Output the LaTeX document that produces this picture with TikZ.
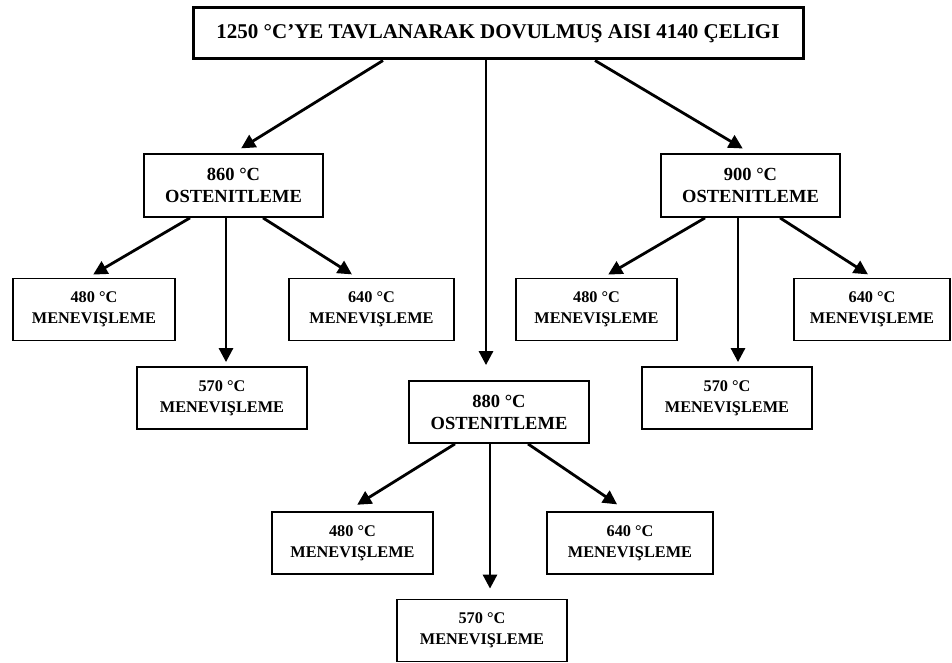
\documentclass[tikz,border=0pt]{standalone}
\usepackage{fontspec}
\setmainfont{Liberation Serif}
\usetikzlibrary{arrows.meta}
\begin{document}
\begin{tikzpicture}[x=1pt,y=1pt,yscale=-1,xscale=1,
  ana/.style={draw,line width=3pt,inner sep=0pt,minimum width=610pt,minimum height=51pt,font=\bfseries\fontsize{21}{24}\selectfont},
  osten/.style={draw,line width=1.8pt,align=center,inner sep=0pt,minimum width=179pt,minimum height=63pt,font=\bfseries\fontsize{18.5}{22}\selectfont},
  menev/.style={draw,line width=1.8pt,align=center,inner sep=0pt,minimum height=62pt,font=\bfseries\fontsize{16.3}{21}\selectfont},
  ok/.style={line width=2.8pt,-{Triangle[length=14pt,width=14pt]}}]
\useasboundingbox (0,0) rectangle (952,663);

%Shape: main box
\node [ana] (ana) at (498,33.5) {1250 °C’YE TAVLANARAK DOVULMUŞ AISI 4140 ÇELIGI};

%Shape: austenitizing boxes
\node [osten] (o860) at (233.5,185.5) {860 °C\\OSTENITLEME};
\node [osten] (o900) at (750.5,185.5) {900 °C\\OSTENITLEME};
\node [osten,minimum width=180pt,minimum height=62pt] (o880) at (499,412) {880 °C\\OSTENITLEME};

%Shape: tempering boxes under 860
\node [menev,minimum width=162pt] (a480) at (94,309.5) {480 °C\\MENEVIŞLEME};
\node [menev,minimum width=170pt] (a570) at (222,398) {570 °C\\MENEVIŞLEME};
\node [menev,minimum width=165pt] (a640) at (371.5,309.5) {640 °C\\MENEVIŞLEME};
%Shape: tempering boxes under 900
\node [menev,minimum width=161pt] (b480) at (596.5,309.5) {480 °C\\MENEVIŞLEME};
\node [menev,minimum width=170pt] (b570) at (727,398) {570 °C\\MENEVIŞLEME};
\node [menev,minimum width=156pt] (b640) at (872,309.5) {640 °C\\MENEVIŞLEME};
%Shape: tempering boxes under 880
\node [menev,minimum width=161pt] (c480) at (352.5,543) {480 °C\\MENEVIŞLEME};
\node [menev,minimum width=170pt] (c570) at (482,630.5) {570 °C\\MENEVIŞLEME};
\node [menev,minimum width=166pt] (c640) at (630,543) {640 °C\\MENEVIŞLEME};

%Straight Lines from main box
\draw [ok,shorten >=9pt] (ana.south -| 383,0) -- (o860.north);
\draw [ok,shorten >=9pt] (ana.south -| 595,0) -- (o900.north);
\draw [ok,shorten >=15pt] (ana.south -| 486,0) -- (o880.north -| 486,0);

%Straight Lines from 860
\draw [ok,shorten >=6pt] (o860.south -| 190,0) -- (a480.north -| 88,0);
\draw [ok,shorten >=4pt] (o860.south -| 226,0) -- (a570.north -| 226,0);
\draw [ok,shorten >=6pt] (o860.south -| 263,0) -- (a640.north -| 357,0);
%Straight Lines from 900
\draw [ok,shorten >=6pt] (o900.south -| 705,0) -- (b480.north -| 603,0);
\draw [ok,shorten >=4pt] (o900.south -| 738,0) -- (b570.north -| 738,0);
\draw [ok,shorten >=6pt] (o900.south -| 780,0) -- (b640.north -| 873,0);
%Straight Lines from 880
\draw [ok,shorten >=12pt] (o880.south -| 455,0) -- (c480.north -| 347,0);
\draw [ok,shorten >=10pt] (o880.south -| 490,0) -- (c570.north -| 490,0);
\draw [ok,shorten >=12pt] (o880.south -| 528,0) -- (c640.north -| 627,0);

\end{tikzpicture}
\end{document}
